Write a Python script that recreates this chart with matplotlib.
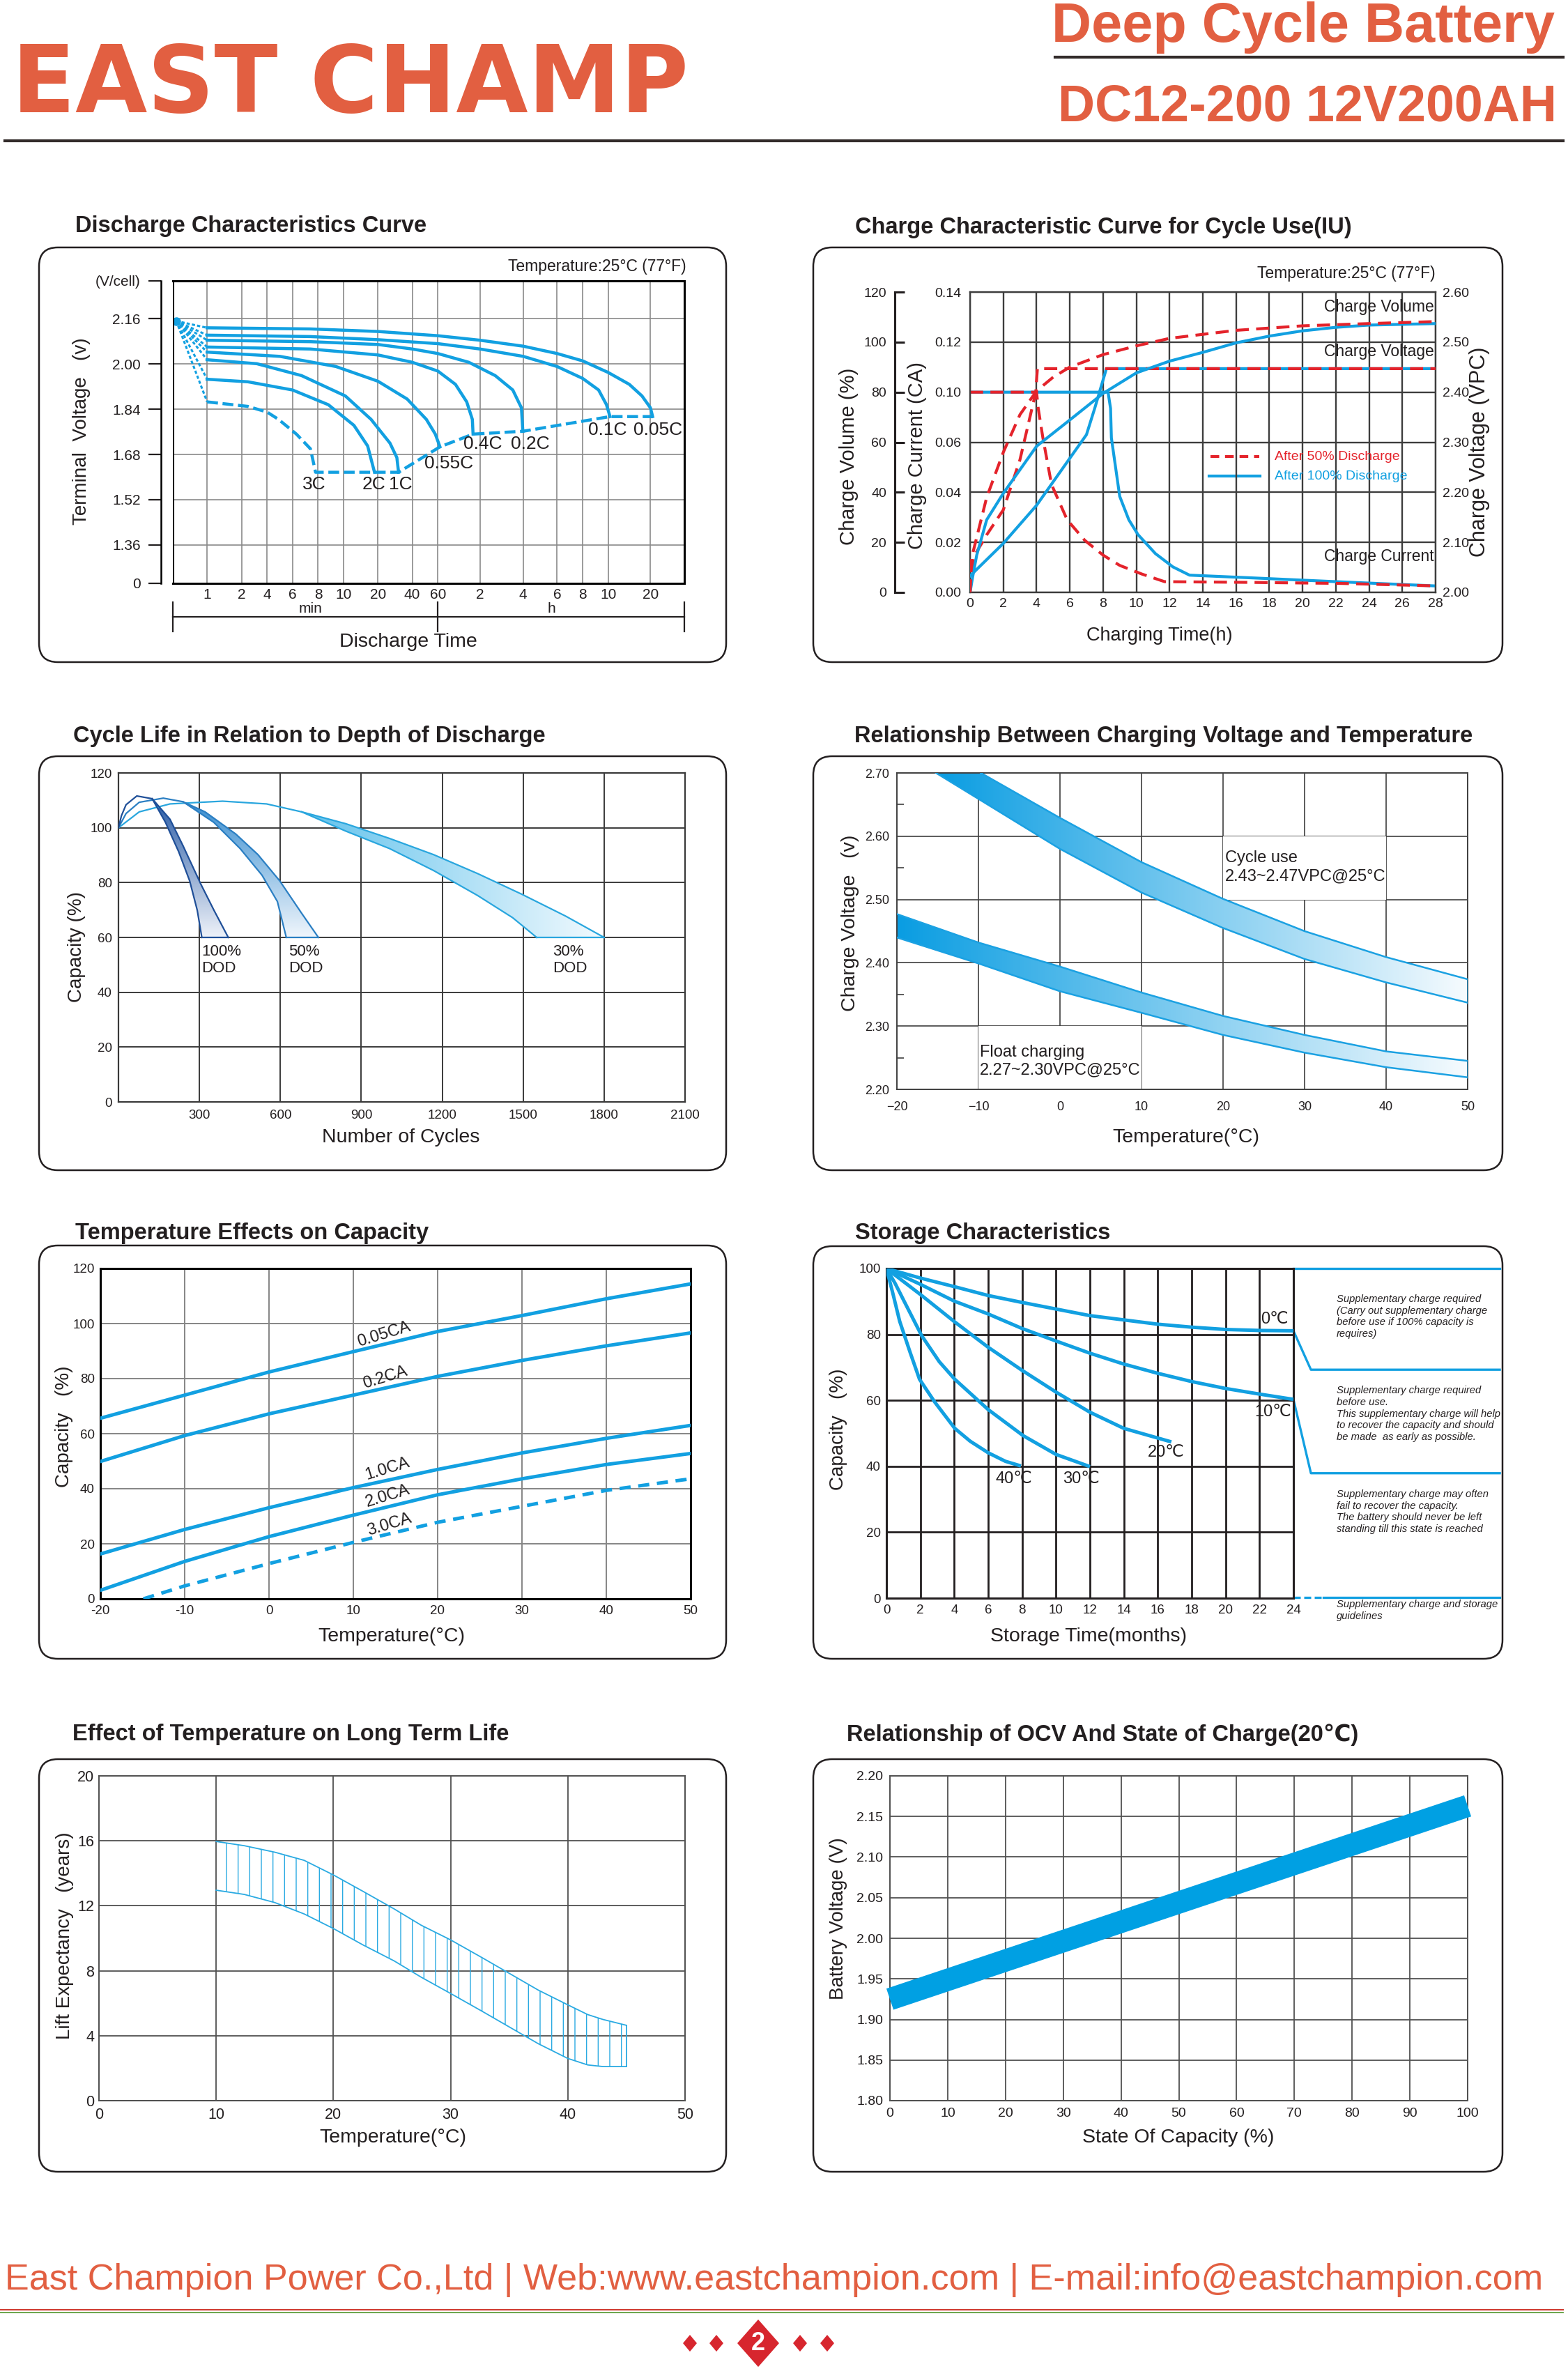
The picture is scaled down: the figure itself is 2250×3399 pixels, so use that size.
import numpy as np
import matplotlib
matplotlib.use('Agg')
import matplotlib.pyplot as plt
import matplotlib.transforms as mtransforms
from matplotlib import font_manager
from matplotlib.patches import FancyBboxPatch, Polygon, Rectangle
from matplotlib.colors import LinearSegmentedColormap
from matplotlib.ticker import FormatStrFormatter, NullLocator

plt.rcParams['font.family'] = ['Liberation Sans', 'DejaVu Sans']
plt.rcParams['hatch.linewidth'] = 1.0
_names = {f.name for f in font_manager.fontManager.ttflist}
HAS_NARROW = 'Liberation Sans Narrow' in _names

# ======================= DATA =======================
brand = 'EAST CHAMP'
product_line = 'Deep Cycle Battery'
model = 'DC12-200 12V200AH'
footer = 'East Champion Power Co.,Ltd | Web:www.eastchampion.com | E-mail:info@eastchampion.com'
page_no = '2'

# --- 1. Discharge characteristics (time in minutes, volts per cell)
dis_tick_min = [1, 2, 4, 6, 8, 10, 20, 40, 60, 120, 240, 360, 480, 600, 1200]
dis_tick_lbl = ['1', '2', '4', '6', '8', '10', '20', '40', '60', '2', '4', '6', '8', '10', '20']
dis_volt_grid = [1.36, 1.52, 1.68, 1.84, 2.00, 2.16]
dis_ytick_lbl = ['0', '1.36', '1.52', '1.68', '1.84', '2.00', '2.16', '(V/cell)']
t_005 = [1, 7.4, 20, 60, 120, 240, 360, 480, 600, 900, 1080, 1200, 1239]
v_005 = [2.128, 2.124, 2.115, 2.100, 2.084, 2.063, 2.037, 2.011, 1.970, 1.928, 1.887, 1.845, 1.814]
t_01 = [1, 7.4, 20, 60, 120, 240, 360, 480, 555, 592, 626]
v_01 = [2.102, 2.097, 2.086, 2.072, 2.053, 2.027, 1.991, 1.949, 1.908, 1.856, 1.814]
t_02 = [1, 7.4, 20, 40, 60, 104, 162, 211, 235, 239]
v_02 = [2.084, 2.079, 2.069, 2.053, 2.037, 2.006, 1.959, 1.908, 1.845, 1.762]
t_04 = [1, 7.4, 20, 40, 60, 85, 101, 109, 110]
v_04 = [2.060, 2.053, 2.032, 2.006, 1.975, 1.928, 1.866, 1.804, 1.752]
t_055 = [1, 5, 9.4, 20, 37, 51, 58, 63]
v_055 = [2.042, 2.027, 1.991, 1.939, 1.876, 1.804, 1.752, 1.707]
t_1 = [1, 3.2, 6.7, 10.5, 18, 27, 31, 32]
v_1 = [2.015, 2.001, 1.959, 1.887, 1.804, 1.720, 1.669, 1.617]
t_2 = [1, 2.5, 6, 8.8, 13, 17, 19]
v_2 = [1.946, 1.937, 1.908, 1.856, 1.783, 1.710, 1.617]
t_3 = [1, 2.5, 4, 4.9, 6.3, 7.4, 7.8]
v_3 = [1.866, 1.850, 1.830, 1.804, 1.752, 1.700, 1.617]
t_end = [7.8, 19, 32, 63, 110, 239, 626, 1239]
v_end = [1.617, 1.617, 1.617, 1.707, 1.752, 1.762, 1.814, 1.814]
t_start, v_start = 0.1, 2.152
dis_lbl_text = ['3C', '2C', '1C', '0.55C', '0.4C', '0.2C', '0.1C', '0.05C']
dis_lbl_t = [7.7, 18.8, 33, 75.6, 127, 265, 596, 1332]
dis_lbl_v = [1.575, 1.575, 1.575, 1.648, 1.718, 1.718, 1.767, 1.767]

# --- 2. Charge characteristics (hours)
ca_ticks = [0.00, 0.02, 0.04, 0.06, 0.10, 0.12, 0.14]   # labels as printed on the chart
h_cur_b = [0, 8.3, 8.45, 8.5, 9.0, 9.55, 10.1, 11.15, 12.2, 13.2, 17, 22, 28]
ca_cur_b = [0.100, 0.100, 0.087, 0.0635, 0.0384, 0.029, 0.0231, 0.0155, 0.0102, 0.0069, 0.0058, 0.0043, 0.0026]
h_cur_r = [0, 4.0, 4.1, 4.38, 4.9, 5.84, 6.9, 8.0, 9.0, 10.35, 11.7, 17, 22.3, 28]
ca_cur_r = [0.100, 0.100, 0.087, 0.0635, 0.0431, 0.029, 0.0208, 0.0149, 0.0108, 0.0073, 0.0043, 0.0040, 0.0036, 0.0026]
h_volt_b = [0, 2, 4, 6, 7.0, 7.5, 8.2, 28]
v_volt_b = [2.033, 2.098, 2.174, 2.268, 2.315, 2.368, 2.447, 2.447]
h_volt_r = [0, 0.2, 1, 2, 3, 3.6, 3.95, 4.05, 28]
v_volt_r = [2.000, 2.070, 2.115, 2.165, 2.265, 2.350, 2.400, 2.447, 2.447]
h_vol_b = [0, 0.15, 0.4, 1, 2, 4, 6, 8, 10, 12, 14, 16, 18, 20, 22, 24, 28]
pct_vol_b = [0, 6, 14.9, 29, 39.6, 58.4, 68.9, 79.5, 87.7, 92.4, 95.9, 99.7, 102.4, 104.5, 105.9, 106.8, 107.4]
h_vol_r = [0, 0.1, 1, 2, 3, 4, 5, 6, 8, 10, 12, 16, 20, 24, 28]
pct_vol_r = [0, 14, 38, 56, 71, 80.5, 86, 90, 95, 98.5, 101.5, 104.7, 106.5, 107.4, 108.2]

# --- 3. Cycle life vs DOD (cycles, capacity %)
dod100_oc = [0, 11, 28, 68, 125, 191, 239, 305, 354, 407]
dod100_op = [100, 104.4, 108.4, 111.6, 110.6, 103.1, 93.5, 79.5, 69.9, 60]
dod100_ic = [125, 174, 223, 264, 292, 309]
dod100_ip = [110.6, 102, 91.3, 80.6, 69.9, 60]
dod50_oc = [0, 28, 77, 166, 239, 321, 435, 517, 598, 679, 741]
dod50_op = [100, 105.2, 109.3, 110.8, 109.5, 105.8, 97.7, 90.2, 80.6, 68.8, 60]
dod50_ic = [239, 353, 451, 532, 589, 622]
dod50_ip = [109.5, 102, 92.4, 82.7, 73.1, 60]
dod30_oc = [0, 77, 191, 386, 549, 679, 842, 1005, 1168, 1331, 1494, 1657, 1800]
dod30_op = [100, 105.8, 108.7, 109.7, 108.7, 105.8, 101.5, 96.1, 90.2, 83.3, 75.8, 67.8, 60]
dod30_ic = [679, 842, 1005, 1168, 1331, 1461, 1550]
dod30_ip = [105.8, 98.8, 92.4, 84.4, 75.3, 67.2, 60]
dod_labels = ['100%\nDOD', '50%\nDOD', '30%\nDOD']
dod_label_x = [307, 630, 1609]

# --- 4. Charging voltage vs temperature
cyc_up_T = [-9.7, 0, 10, 20, 30, 40, 50]
cyc_up_V = [2.700, 2.629, 2.559, 2.501, 2.450, 2.409, 2.374]
cyc_lo_T = [-15.2, -10, 0, 10, 20, 30, 40, 50]
cyc_lo_V = [2.700, 2.659, 2.580, 2.511, 2.455, 2.406, 2.369, 2.337]
flt_T = [-20, -10, 0, 10, 20, 30, 40, 50]
flt_up_V = [2.477, 2.432, 2.394, 2.353, 2.316, 2.286, 2.260, 2.245]
flt_lo_V = [2.440, 2.399, 2.355, 2.321, 2.286, 2.258, 2.235, 2.219]

# --- 5. Temperature effects on capacity
temp_T = [-20, -10, 0, 10, 20, 30, 40, 50]
cap_005 = [65.6, 74.0, 82.4, 89.8, 97.1, 102.9, 109.0, 114.4]
cap_02 = [49.9, 59.3, 67.2, 74.0, 80.8, 86.6, 91.9, 96.6]
cap_10 = [16.3, 25.2, 33.1, 40.4, 47.0, 53.0, 58.3, 63.0]
cap_20 = [3.1, 13.6, 22.6, 30.4, 37.8, 43.6, 48.8, 52.8]
temp_T3 = [-14.9, -10, 0, 10, 20, 30, 40, 50]
cap_30 = [0, 4.7, 12.8, 20.5, 27.8, 33.6, 39.4, 43.6]
rate_lbl = ['0.05CA', '0.2CA', '1.0CA', '2.0CA', '3.0CA']

# --- 6. Storage characteristics (months, %)
st_m = [0, 2, 4, 6, 8, 10, 12, 14, 16, 18, 20, 22, 24]
st_0_c = [100, 97.1, 94.5, 91.8, 89.7, 87.7, 85.7, 84.4, 83.1, 82.2, 81.5, 81.2, 81.1]
st_10_c = [100, 95.2, 90.1, 86.2, 81.8, 78.0, 74.3, 71.0, 68.2, 65.7, 63.6, 61.9, 60.3]
st_20_m = [0, 2.08, 4, 6, 8, 10, 12, 14, 16.8]
st_20_c = [100, 91.8, 83.9, 76.1, 69.1, 62.5, 56.4, 51.5, 47.4]
st_30_m = [0, 0.52, 1.04, 2.08, 3.12, 4.03, 6, 8.06, 10, 12]
st_30_c = [100, 95.4, 90.1, 79.6, 71.7, 66.4, 57.2, 49.3, 43.6, 39.9]
st_40_m = [0, 0.4, 0.78, 1.4, 1.95, 2.86, 4.03, 4.94, 6.0, 7.02, 7.93]
st_40_c = [100, 92, 84, 74.5, 66.4, 59.4, 51.5, 47.6, 44.1, 41.5, 40.1]
st_lbl = ['0℃', '10℃', '20℃', '30℃', '40℃']
zone_levels = [100, 69.3, 37.9, 0]
zone_text = [
    'Supplementary charge required\n(Carry out supplementary charge\nbefore use if 100% capacity is\nrequires)',
    'Supplementary charge required\nbefore use.\nThis supplementary charge will help\nto recover the capacity and should\nbe made  as early as possible.',
    'Supplementary charge may often\nfail to recover the capacity.\nThe battery should never be left\nstanding till this state is reached',
    'Supplementary charge and storage\nguidelines']

# --- 7. Long-term life
ll_T = [10, 12.4, 15, 17.5, 20, 22.5, 25.2, 27.5, 30, 32.7, 35.1, 37.5, 40, 41.7, 43, 45]
ll_up = [15.96, 15.7, 15.3, 14.8, 13.9, 12.9, 11.8, 10.8, 9.9, 8.8, 7.8, 6.8, 5.9, 5.3, 5.0, 4.64]
ll_lo = [12.96, 12.7, 12.2, 11.5, 10.6, 9.6, 8.6, 7.6, 6.6, 5.5, 4.5, 3.5, 2.6, 2.2, 2.1, 2.1]

# --- 8. OCV vs SOC
ocv_soc = [0, 100]
ocv_v = [1.925, 2.163]

# ======================= LAYOUT / STYLE =======================
W, H = 2250, 3399
DARK = '#231f20'
BLUE = '#12a0e1'
RED = '#e4232b'
ORANGE = '#e25f41'

dis_anchor_min = [0, 1, 2, 4, 6, 8, 10, 20, 40, 60, 120, 240, 360, 480, 600, 1200, 1800]
dis_anchor_pos = [0, 6.71, 13.43, 18.42, 23.41, 28.40, 33.39, 40.10, 46.82, 51.81, 60.07,
                  68.50, 75.13, 80.12, 85.11, 93.37, 100]

fig = plt.figure(figsize=(W / 100, H / 100), dpi=100)
bg = fig.add_axes([0, 0, 1, 1], zorder=-5)
bg.set_xlim(0, W)
bg.set_ylim(H, 0)
bg.axis('off')


def px_ax(x0, y0, x1, y1):
    ax = fig.add_axes([x0 / W, 1 - y1 / H, (x1 - x0) / W, (y1 - y0) / H])
    ax.set_facecolor('none')
    return ax


def ftext(x, y, s, **kw):
    kw.setdefault('color', DARK)
    return fig.text(x / W, 1 - y / H, s, **kw)


def style(ax, gc, glw, sc, slw, ls, xpad, ypad):
    for sp in ax.spines.values():
        sp.set_color(sc)
        sp.set_linewidth(slw)
    ax.grid(True, color=gc, lw=glw)
    ax.set_axisbelow(True)
    ax.tick_params(length=0, labelsize=ls, colors=DARK)
    ax.tick_params(axis='x', pad=xpad)
    ax.tick_params(axis='y', pad=ypad)


def grad_poly(ax, px, py, c0, c1, direction, z=2):
    poly = Polygon(np.column_stack([px, py]), closed=True, fc='none', ec='none')
    ax.add_patch(poly)
    cmap = LinearSegmentedColormap.from_list('g', [c0, c1])
    g = np.linspace(0, 1, 256)
    arr = g.reshape(-1, 1) if direction == 'v' else g.reshape(1, -1)
    im = ax.imshow(arr, cmap=cmap, extent=[min(px), max(px), min(py), max(py)],
                   origin='upper', aspect='auto', interpolation='bilinear', zorder=z)
    im.set_clip_path(poly)


# ---------- header ----------
ftext(17, 161, brand, family=['DejaVu Sans'], weight='bold', fontsize=96, color=ORANGE, va='baseline')
ftext(2231, 60, product_line, weight='bold', fontsize=57, color=ORANGE, ha='right', va='baseline')
ftext(1518, 173, model, weight='bold', fontsize=53, color=ORANGE, va='baseline')
bg.plot([1514, 2243], [82, 82], color='#332c2b', lw=3)
bg.plot([7, 2243], [202, 202], color='#332c2b', lw=3)

# ---------- boxes & titles ----------
boxes = [(56, 355, 1042, 950), (1167, 355, 2156, 950), (56, 1085, 1042, 1679), (1167, 1085, 2156, 1679),
         (56, 1787, 1042, 2380), (1167, 1788, 2156, 2380), (56, 2524, 1042, 3116), (1167, 2524, 2156, 3116)]
for (x0, y0, x1, y1) in boxes:
    bg.add_patch(FancyBboxPatch((x0, y0), x1 - x0, y1 - y0, boxstyle='round,pad=0,rounding_size=27',
                                lw=1.8, ec=DARK, fc='none'))
titles = [(108, 325, 'Discharge Characteristics Curve'),
          (1227, 326, 'Charge Characteristic Curve for Cycle Use(IU)'),
          (105, 1056, 'Cycle Life in Relation to Depth of Discharge'),
          (1226, 1056, 'Relationship Between Charging Voltage and Temperature'),
          (108, 1769, 'Temperature Effects on Capacity'),
          (1227, 1769, 'Storage Characteristics'),
          (104, 2489, 'Effect of Temperature on Long Term Life'),
          (1215, 2489, 'Relationship of OCV And State of Charge(20℃)')]
for x, y, s in titles:
    ftext(x, y, s, weight='bold', fontsize=23.5, va='center')

# ---------- 1. Discharge ----------
ax1 = px_ax(248, 403, 982, 837)
fwd = lambda m: np.interp(m, dis_anchor_min, dis_anchor_pos)
inv = lambda p: np.interp(p, dis_anchor_pos, dis_anchor_min)
ax1.set_xscale('function', functions=(fwd, inv))
ax1.set_xlim(0, 1800)
ax1.set_ylim(1.224, 2.294)
for t in dis_tick_min:
    ax1.axvline(t, color='#8a8a8a', lw=1.2, zorder=1)
for v in dis_volt_grid:
    ax1.axhline(v, color='#8a8a8a', lw=1.2, zorder=1)
ax1.set_xticks(dis_tick_min, dis_tick_lbl)
ax1.set_yticks([1.224] + dis_volt_grid + [2.294], dis_ytick_lbl)
ax1.xaxis.set_minor_locator(NullLocator())
ax1.yaxis.set_minor_locator(NullLocator())
for k in ['top', 'right', 'bottom']:
    ax1.spines[k].set_linewidth(2.2)
    ax1.spines[k].set_color('black')
ax1.spines['left'].set_position(('outward', 12.2))
ax1.spines['left'].set_linewidth(1.8)
ax1.axvline(0, color='black', lw=2.2, zorder=5)
ax1.tick_params(axis='x', length=0, pad=5, labelsize=15, colors=DARK)
ax1.tick_params(axis='y', direction='out', length=13, width=1.6, pad=8, labelsize=15, colors=DARK)
for t, v in [(t_005, v_005), (t_01, v_01), (t_02, v_02), (t_04, v_04), (t_055, v_055), (t_1, v_1), (t_2, v_2)]:
    ax1.plot(t, v, color=BLUE, lw=3.2, zorder=3)
    ax1.plot([t_start, t[0]], [v_start, v[0]], color=BLUE, lw=2.2, ls=(0, (1.5, 1)), zorder=3)
ax1.plot([t_start, t_3[0]], [v_start, v_3[0]], color=BLUE, lw=2.2, ls=(0, (1.5, 1)), zorder=3)
ax1.plot(t_3 + t_end[1:], v_3 + v_end[1:], color=BLUE, lw=3.2, ls=(0, (3.5, 1.5)), zorder=3)
ax1.plot([t_start], [v_start], 'o', color=BLUE, ms=8, zorder=4)
for s, t, v in zip(dis_lbl_text, dis_lbl_t, dis_lbl_v):
    ax1.text(t, v, s, ha='center', va='center', fontsize=19, color=DARK, zorder=6)
trans1 = mtransforms.blended_transform_factory(ax1.transData, ax1.transAxes)
ax1.plot([0, 1800], [-0.1106, -0.1106], transform=trans1, clip_on=False, color=DARK, lw=1.6)
for t in [0, 60, 1800]:
    ax1.plot([t, t], [-0.0622, -0.159], transform=trans1, clip_on=False, color=DARK, lw=1.6)
ax1.text(7.4, -0.083, 'min', transform=trans1, ha='center', va='center', fontsize=15, color=DARK)
ax1.text(340, -0.083, 'h', transform=trans1, ha='center', va='center', fontsize=15, color=DARK)
ftext(586, 921, 'Discharge Time', fontsize=20.5, ha='center', va='center')
ftext(117, 619, 'Terminal  Voltage   (v)', fontsize=20, rotation=90, ha='center', va='center')
ftext(985, 382, 'Temperature:25°C (77°F)', fontsize=16.5, ha='right', va='center')

# ---------- 2. Charge ----------
ax2 = px_ax(1392, 419, 2060, 850)
grid_idx = list(range(len(ca_ticks)))
ca_f = lambda c: np.interp(c, ca_ticks, grid_idx)
ca_i = lambda g: np.interp(g, grid_idx, ca_ticks)
ax2.set_yscale('function', functions=(ca_f, ca_i))
ax2.set_xlim(0, 28)
ax2.set_ylim(0, 0.14)
ax2.set_xticks(range(0, 29, 2))
ax2.set_yticks(ca_ticks)
ax2.yaxis.set_minor_locator(NullLocator())
ax2.yaxis.set_major_formatter(FormatStrFormatter('%.2f'))
style(ax2, '#3d3d3d', 1.7, '#3d3d3d', 1.7, 14, 6, 9.4)
ax2v = ax2.twinx()
ax2v.set_ylim(2.0, 2.6)
ax2v.set_yticks(np.arange(2.0, 2.601, 0.1))
ax2v.yaxis.set_major_formatter(FormatStrFormatter('%.2f'))
ax2v.tick_params(length=0, labelsize=14, pad=7, colors=DARK)
for sp in ax2v.spines.values():
    sp.set_visible(False)
ax2p = ax2.twinx()
ax2p.set_ylim(0, 120)
ax2p.set_yticks(range(0, 121, 20))
ax2p.yaxis.set_ticks_position('left')
for k in ['top', 'right', 'bottom']:
    ax2p.spines[k].set_visible(False)
ax2p.spines['left'].set_visible(True)
ax2p.spines['left'].set_position(('outward', 77.8))
ax2p.spines['left'].set_linewidth(2.2)
ax2p.spines['left'].set_color(DARK)
ax2p.tick_params(axis='y', direction='in', length=10, width=2.2, labelsize=14, pad=8.6, colors=DARK)
dash_r = (0, (4.5, 2.5))
ax2.plot(h_cur_b, ca_cur_b, color=BLUE, lw=3)
ax2.plot(h_cur_r, ca_cur_r, color=RED, lw=3, ls=dash_r)
ax2v.plot(h_volt_b, v_volt_b, color=BLUE, lw=3)
ax2v.plot(h_volt_r, v_volt_r, color=RED, lw=3, ls=dash_r)
ax2p.plot(h_vol_b, pct_vol_b, color=BLUE, lw=3)
ax2p.plot(h_vol_r, pct_vol_r, color=RED, lw=3, ls=dash_r)
ftext(2058, 441, 'Charge Volume', fontsize=16.5, ha='right', va='center')
ftext(2058, 505, 'Charge Voltage', fontsize=16.5, ha='right', va='center')
ftext(2058, 798, 'Charge Current', fontsize=16.5, ha='right', va='center')
ftext(2060, 392, 'Temperature:25°C (77°F)', fontsize=16.5, ha='right', va='center')
bg.plot([1737, 1807], [655, 655], color=RED, lw=3, ls=(0, (3, 2)))
bg.plot([1735, 1808], [683, 683], color=BLUE, lw=3)
ftext(1829, 655, 'After 50% Discharge', fontsize=14, color=RED, va='center')
ftext(1829, 683, 'After 100% Discharge', fontsize=14, color=BLUE, va='center')
ftext(1218, 655, 'Charge Volume (%)', fontsize=21, rotation=90, ha='center', va='center')
ftext(1316, 654, 'Charge Current (CA)', fontsize=21, rotation=90, ha='center', va='center')
ftext(2123, 648, 'Charge Voltage (VPC)', fontsize=22, rotation=90, ha='center', va='center')
ftext(1664, 912, 'Charging Time(h)', fontsize=19.5, ha='center', va='center')

# ---------- 3. Cycle life ----------
ax3 = px_ax(170, 1109, 983, 1581)
style(ax3, '#3a3a3a', 1.4, '#3a3a3a', 1.6, 13.5, 8, 6.5)
bands3 = [(dod30_oc, dod30_op, dod30_ic, dod30_ip, '#62c2ec', '#f2fafe', '#29a6de', 'h'),
          (dod50_oc, dod50_op, dod50_ic, dod50_ip, '#3a8ed0', '#f0f6fc', '#2b7fc3', 'v'),
          (dod100_oc, dod100_op, dod100_ic, dod100_ip, '#2a5ca6', '#eef2f9', '#1f4f98', 'v')]
for oc, op, ic, ip, c0, c1, ec, d in bands3:
    b = oc.index(ic[0])
    px = list(oc[b:]) + list(ic[::-1])
    py = list(op[b:]) + list(ip[::-1])
    grad_poly(ax3, px, py, c0, c1, d)
    ax3.plot(oc, op, color=ec, lw=1.6, zorder=3)
    ax3.plot(ic, ip, color=ec, lw=1.6, zorder=3)
    ax3.plot([ic[-1], oc[-1]], [ip[-1], op[-1]], color=ec, lw=1.6, zorder=3)
ax3.set_xlim(0, 2100)
ax3.set_ylim(0, 120)
ax3.set_xticks(range(300, 2101, 300))
ax3.set_yticks(range(0, 121, 20))
for s, x in zip(dod_labels, dod_label_x):
    ax3.text(x, 57.5, s, fontsize=16, va='top', ha='left', color=DARK, linespacing=1.2)
ftext(110, 1359, 'Capacity (%)', fontsize=20, rotation=90, ha='center', va='center')
ftext(575, 1632, 'Number of Cycles', fontsize=20.5, ha='center', va='center')

# ---------- 4. Charging voltage vs temperature ----------
ax4 = px_ax(1287, 1109, 2106, 1563)
style(ax4, '#404040', 1.2, '#404040', 1.4, 13, 12, 8)
ax4.add_patch(Rectangle((20, 2.50), 20, 0.10, fc='white', ec='none', zorder=0.8))
ax4.add_patch(Rectangle((-10, 2.20), 20, 0.10, fc='white', ec='none', zorder=0.8))
bandc_x = cyc_up_T + cyc_lo_T[::-1]
bandc_y = cyc_up_V + cyc_lo_V[::-1]
grad_poly(ax4, bandc_x, bandc_y, '#0a9de2', '#f6fbfe', 'h')
bandf_x = flt_T + flt_T[::-1]
bandf_y = flt_up_V + flt_lo_V[::-1]
grad_poly(ax4, bandf_x, bandf_y, '#0a9de2', '#f6fbfe', 'h')
EC4 = '#1ba1e2'
ax4.plot(cyc_up_T, cyc_up_V, color=EC4, lw=1.8, zorder=3)
ax4.plot(cyc_lo_T, cyc_lo_V, color=EC4, lw=1.8, zorder=3)
ax4.plot([cyc_up_T[-1], cyc_lo_T[-1]], [cyc_up_V[-1], cyc_lo_V[-1]], color=EC4, lw=1.8, zorder=3)
ax4.plot(flt_T, flt_up_V, color=EC4, lw=1.8, zorder=3)
ax4.plot(flt_T, flt_lo_V, color=EC4, lw=1.8, zorder=3)
ax4.plot([flt_T[-1], flt_T[-1]], [flt_up_V[-1], flt_lo_V[-1]], color=EC4, lw=1.8, zorder=3)
ax4.set_xlim(-20, 50)
ax4.set_ylim(2.20, 2.70)
ax4.set_xticks(range(-20, 51, 10))
ax4.set_yticks(np.arange(2.20, 2.701, 0.10))
ax4.yaxis.set_major_formatter(FormatStrFormatter('%.2f'))
ax4.set_yticks(np.arange(2.25, 2.70, 0.10), minor=True)
ax4.tick_params(axis='y', which='minor', direction='in', length=7, width=1.2, color='#404040')
ax4.text(20.25, 2.566, 'Cycle use', fontsize=17, va='center', ha='left', color=DARK)
ax4.text(20.25, 2.536, '2.43~2.47VPC@25°C', fontsize=17, va='center', ha='left', color=DARK)
ax4.text(-9.8, 2.258, 'Float charging', fontsize=17, va='center', ha='left', color=DARK)
ax4.text(-9.8, 2.230, '2.27~2.30VPC@25°C', fontsize=17, va='center', ha='left', color=DARK)
ftext(1220, 1324, 'Charge Voltage   (v)', fontsize=20.5, rotation=90, ha='center', va='center')
ftext(1702, 1632, 'Temperature(°C)', fontsize=20.5, ha='center', va='center')

# ---------- 5. Temperature effects on capacity ----------
ax5 = px_ax(144, 1820, 991, 2294)
style(ax5, '#858585', 1.4, 'black', 2.2, 13.5, 6.5, 6)
for y in [cap_005, cap_02, cap_10, cap_20]:
    ax5.plot(temp_T, y, color=BLUE, lw=3.6, zorder=3)
ax5.plot(temp_T3, cap_30, color=BLUE, lw=3.6, ls=(0, (3.2, 2.2)), zorder=3)
ax5.set_xlim(-20, 50)
ax5.set_ylim(0, 120)
ax5.set_xticks(range(-20, 51, 10), ['-20', '-10', '0', '10', '20', '30', '40', '50'])
ax5.set_yticks(range(0, 121, 20))
for s, x, y in zip(rate_lbl, [13.6, 13.75, 14.0, 14.1, 14.3], [96.1, 80.3, 47.2, 37.3, 26.8]):
    ax5.text(x, y, s, fontsize=17, rotation=17, ha='center', va='center', color=DARK, rotation_mode='anchor')
ftext(92, 2047, 'Capacity   (%)', fontsize=20, rotation=90, ha='center', va='center')
ftext(562, 2348, 'Temperature(°C)', fontsize=20.5, ha='center', va='center')

# ---------- 6. Storage ----------
ax6 = px_ax(1272, 1820, 1856, 2293)
style(ax6, DARK, 2.0, DARK, 2.2, 13.5, 6.5, 6)
for m, c in [(st_m, st_0_c), (st_m, st_10_c), (st_20_m, st_20_c), (st_30_m, st_30_c), (st_40_m, st_40_c)]:
    ax6.plot(m, c, color=BLUE, lw=3.6, zorder=3, solid_capstyle='butt')
ax6.set_xlim(0, 24)
ax6.set_ylim(0, 100)
ax6.set_xticks(range(0, 25, 2))
ax6.set_yticks(range(0, 101, 20))
for s, x, y in zip(st_lbl, [22.9, 22.8, 16.5, 11.5, 7.5], [84.6, 56.5, 44.1, 36.2, 36.2]):
    ax6.text(x, y, s, fontsize=17, ha='center', va='center', color=DARK)
tr6 = mtransforms.blended_transform_factory(ax6.transAxes, ax6.transData)
xr = 1.507
ax6.plot([1.0, xr], [zone_levels[0]] * 2, transform=tr6, clip_on=False, color=BLUE, lw=2.4)
ax6.plot([1.0, 1.043, xr], [st_0_c[-1], zone_levels[1], zone_levels[1]], transform=tr6, clip_on=False, color=BLUE, lw=2.4)
ax6.plot([1.0, 1.043, xr], [st_10_c[-1], zone_levels[2], zone_levels[2]], transform=tr6, clip_on=False, color=BLUE, lw=2.4)
ax6.plot([1.0, 1.074], [zone_levels[3] + 0.3] * 2, transform=tr6, clip_on=False, color=BLUE, lw=2.4, ls=(0, (3, 1.5)))
ax6.plot([1.074, xr], [zone_levels[3] + 0.3] * 2, transform=tr6, clip_on=False, color=BLUE, lw=2.4)
if HAS_NARROW:
    zfam, zsize = ['Liberation Sans Narrow', 'Liberation Sans'], 12.5
else:
    zfam, zsize = ['Liberation Sans'], 10.6
for s, y in zip(zone_text, [1857, 1988, 2137, 2295]):
    ftext(1918, y, s, family=zfam, style='italic', fontsize=zsize, va='top', ha='left', linespacing=1.25)
ftext(1203, 2051, 'Capacity   (%)', fontsize=20, rotation=90, ha='center', va='center')
ftext(1562, 2348, 'Storage Time(months)', fontsize=20.5, ha='center', va='center')

# ---------- 7. Long term life ----------
ax7 = px_ax(142, 2548, 983, 3014)
style(ax7, '#505050', 1.3, '#505050', 1.4, 15.5, 7, 5)
HC = '#2aaae2'
ax7.fill_between(ll_T, ll_lo, ll_up, facecolor='none', edgecolor=HC, hatch='|', linewidth=0, zorder=2)
ax7.plot(ll_T, ll_up, color=HC, lw=1.3, zorder=3)
ax7.plot(ll_T, ll_lo, color=HC, lw=1.3, zorder=3)
ax7.plot([ll_T[-1], ll_T[-1]], [ll_lo[-1], ll_up[-1]], color=HC, lw=1.3, zorder=3)
ax7.set_xlim(0, 50)
ax7.set_ylim(0, 20)
ax7.set_xticks(range(0, 51, 10))
ax7.set_yticks(range(0, 21, 4))
ftext(93, 2777, 'Lift Expectancy   (years)', fontsize=20, rotation=90, ha='center', va='center')
ftext(564, 3067, 'Temperature(°C)', fontsize=20.5, ha='center', va='center')

# ---------- 8. OCV ----------
ax8 = px_ax(1277, 2548, 2106, 3014)
style(ax8, '#505050', 1.3, '#505050', 1.4, 14, 7, 7)
ax8.plot(ocv_soc, ocv_v, color='#00a0e3', lw=23, solid_capstyle='butt', clip_on=False, zorder=3)
ax8.set_xlim(0, 100)
ax8.set_ylim(1.80, 2.20)
ax8.set_xticks(range(0, 101, 10))
ax8.set_yticks(np.arange(1.80, 2.201, 0.05))
ax8.yaxis.set_major_formatter(FormatStrFormatter('%.2f'))
ftext(1203, 2753, 'Battery Voltage (V)', fontsize=20, rotation=90, ha='center', va='center')
ftext(1691, 3067, 'State Of Capacity (%)', fontsize=20.5, ha='center', va='center')

# ---------- footer ----------
ftext(7, 3272, footer, fontsize=37.5, color=ORANGE, va='center', ha='left')
bg.plot([0, 2243], [3314, 3314], color='#cf3b30', lw=1.5)
bg.plot([0, 2243], [3317.5, 3317.5], color='#5f9e3e', lw=1.3)
DRED = '#d7262e'
cy = 3362
bg.add_patch(Polygon([(1088, cy - 34), (1118, cy), (1088, cy + 34), (1058, cy)], closed=True, fc=DRED, ec='none'))
for cx in [990, 1028, 1148, 1187]:
    bg.add_patch(Polygon([(cx, cy - 12), (cx + 10, cy), (cx, cy + 12), (cx - 10, cy)], closed=True, fc=DRED, ec='none'))
ftext(1088, cy, page_no, fontsize=26, weight='bold', color='white', ha='center', va='center')

fig.savefig('out.png', dpi=100)
